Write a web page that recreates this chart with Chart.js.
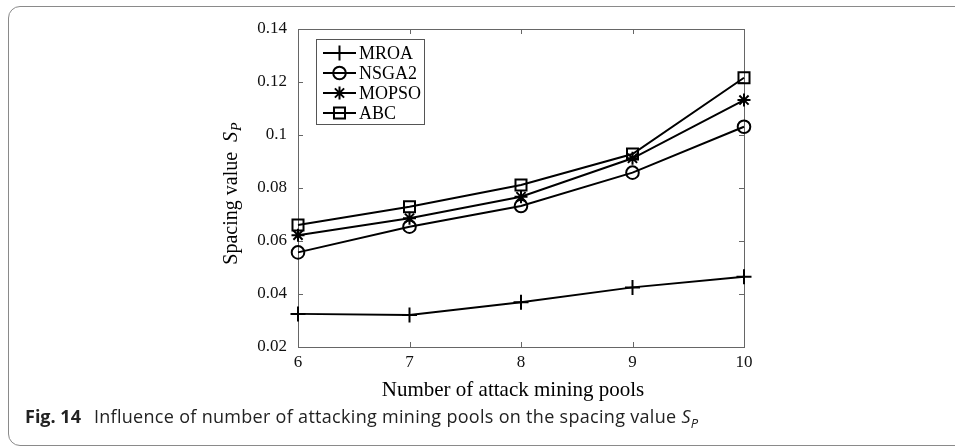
<!DOCTYPE html>
<html>
<head>
<meta charset="utf-8">
<script src="https://cdn.jsdelivr.net/npm/chart.js@4/dist/chart.umd.min.js"></script>
<style>
    body { margin: 0; background: #fff; width: 955px; height: 446px; overflow: hidden; position: relative; }
    #frame { position: absolute; left: 8px; top: 6px; width: 970px; height: 438px; border: 1px solid #8a8a8a; border-radius: 12px; }
    #wrap { position: absolute; left: 0; top: 0; width: 955px; height: 410px; }
    #caption { position: absolute; left: 25px; top: 407px; font-family: "Open Sans", sans-serif; font-size: 18px; line-height: 18px; letter-spacing: 0.3px; color: #222; white-space: nowrap; }
    #caption b { font-weight: 700; margin-right: 8px; letter-spacing: 0; }
    #caption i sub { font-size: 13px; }
</style>
</head>
<body>
<div id="frame"></div>
<div id="wrap"><canvas id="chart-spacing"></canvas></div>
<div id="caption"><b>Fig. 14</b> Influence of number of attacking mining pools on the spacing value <i>S<sub>P</sub></i></div>

<script>
// values
var poolCounts = [6, 7, 8, 9, 10];
var mroaData = [0.0325, 0.0321, 0.0369, 0.0425, 0.0465];
var nsga2Data = [0.0557, 0.0654, 0.0732, 0.0858, 0.1031];
var mopsoData = [0.0622, 0.0686, 0.0767, 0.0912, 0.1132];
var abcData = [0.0660, 0.0729, 0.0811, 0.0928, 0.1216];
var yTicks = [0.02, 0.04, 0.06, 0.08, 0.1, 0.12, 0.14];

var serifFont = '"Liberation Serif", "Times New Roman", serif';

// MATLAB style box with inward ticks, tick labels, titles and legend
var boxPlugin = {
    id: 'box',
    beforeDatasetsDraw: function (chart) {
        var ctx = chart.ctx, a = chart.chartArea;
        var xs = chart.scales.x, ys = chart.scales.y;
        ctx.save();
        ctx.strokeStyle = '#666';
        ctx.lineWidth = 1;
        ctx.strokeRect(a.left + 0.5, a.top + 0.5, a.right - a.left, a.bottom - a.top);
        ctx.beginPath();
        poolCounts.forEach(function (v, i) {
            var px = Math.round(xs.getPixelForValue(i)) + 0.5;
            ctx.moveTo(px, a.bottom); ctx.lineTo(px, a.bottom - 5);
            ctx.moveTo(px, a.top); ctx.lineTo(px, a.top + 5);
        });
        yTicks.forEach(function (v) {
            var py = Math.round(ys.getPixelForValue(v)) + 0.5;
            ctx.moveTo(a.left, py); ctx.lineTo(a.left + 5, py);
            ctx.moveTo(a.right, py); ctx.lineTo(a.right - 5, py);
        });
        ctx.stroke();

        // tick labels
        ctx.fillStyle = '#111';
        ctx.font = '17px ' + serifFont;
        ctx.textAlign = 'center';
        ctx.textBaseline = 'top';
        poolCounts.forEach(function (v, i) {
            ctx.fillText(String(v), xs.getPixelForValue(i), a.bottom + 7);
        });
        ctx.textAlign = 'right';
        ctx.textBaseline = 'middle';
        yTicks.forEach(function (v) {
            ctx.fillText(String(v), a.left - 11, ys.getPixelForValue(v));
        });
        ctx.restore();
    },
    afterDatasetsDraw: function (chart) {
        var ctx = chart.ctx, a = chart.chartArea;
        ctx.save();
        ctx.fillStyle = '#000';

        // x title
        ctx.font = '21px ' + serifFont;
        ctx.textAlign = 'center';
        ctx.textBaseline = 'middle';
        ctx.fillText('Number of attack mining pools', (a.left + a.right) / 2 - 8, 390);

        // y title with italic S_P
        ctx.translate(232, (a.top + a.bottom) / 2 + 6);
        ctx.rotate(-Math.PI / 2);
        var t1 = 'Spacing value  ';
        ctx.font = '20px ' + serifFont;
        var w1 = ctx.measureText(t1).width;
        ctx.font = 'italic 20px ' + serifFont;
        var w2 = ctx.measureText('S').width;
        ctx.font = 'italic 14px ' + serifFont;
        var w3 = ctx.measureText('P').width;
        var x0 = -(w1 + w2 + w3) / 2;
        ctx.textAlign = 'left';
        ctx.font = '20px ' + serifFont;
        ctx.fillText(t1, x0, 0);
        ctx.font = 'italic 20px ' + serifFont;
        ctx.fillText('S', x0 + w1, 0);
        ctx.font = 'italic 14px ' + serifFont;
        ctx.fillText('P', x0 + w1 + w2 + 1, 5);
        ctx.restore();

        // legend
        ctx.save();
        ctx.fillStyle = '#fff';
        ctx.fillRect(316, 39, 108, 85);
        ctx.strokeStyle = '#555';
        ctx.lineWidth = 1;
        ctx.strokeRect(316.5, 39.5, 108, 85);
        ctx.font = '18px ' + serifFont;
        ctx.textAlign = 'left';
        ctx.textBaseline = 'middle';
        chart.data.datasets.forEach(function (ds, i) {
            var y = 53 + i * 20;
            ctx.strokeStyle = '#000';
            ctx.lineWidth = 2;
            ctx.beginPath();
            ctx.moveTo(323, y); ctx.lineTo(356, y);
            ctx.stroke();
            ctx.fillStyle = 'rgba(0,0,0,0)';
            Chart.helpers.drawPoint(ctx, {
                pointStyle: ds.pointStyle,
                radius: ds.pointRadius,
                borderWidth: ds.pointBorderWidth
            }, 339.5, y);
            ctx.fillStyle = '#000';
            ctx.fillText(ds.label, 359, y + 1);
        });
        ctx.restore();
    }
};

function series(label, data, style, radius) {
    return {
        label: label,
        data: data,
        borderColor: '#000',
        backgroundColor: 'rgba(0,0,0,0)',
        borderWidth: 2,
        pointStyle: style,
        pointRadius: radius,
        pointBorderWidth: 2,
        pointBorderColor: '#000',
        pointBackgroundColor: 'rgba(0,0,0,0)',
        tension: 0
    };
}

new Chart(document.getElementById('chart-spacing'), {
    type: 'line',
    data: {
        labels: poolCounts,
        datasets: [
            series('MROA', mroaData, 'cross', 7.5),
            series('NSGA2', nsga2Data, 'circle', 6.3),
            series('MOPSO', mopsoData, 'star', 6.5),
            series('ABC', abcData, 'rect', 7.8)
        ]
    },
    options: {
        responsive: true,
        maintainAspectRatio: false,
        animation: false,
        layout: { padding: { left: 218, right: 211, top: 29, bottom: 0 } },
        plugins: {
            legend: { display: false },
            tooltip: { enabled: false }
        },
        scales: {
            x: {
                type: 'category',
                offset: false,
                grid: { display: false, drawTicks: false },
                border: { display: false },
                ticks: { display: false },
                afterFit: function (scale) { scale.height = 63; }
            },
            y: {
                min: 0.02,
                max: 0.14,
                grid: { display: false, drawTicks: false },
                border: { display: false },
                ticks: { display: false, stepSize: 0.02 },
                afterFit: function (scale) { scale.width = 80; }
            }
        }
    },
    plugins: [boxPlugin]
});
</script>
</body>
</html>
